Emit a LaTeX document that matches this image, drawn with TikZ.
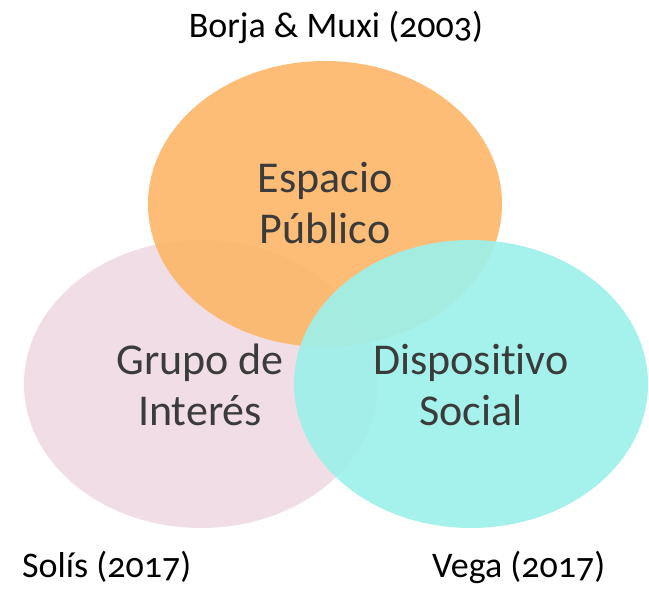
\documentclass[tikz,border=0pt]{standalone}
\usepackage{fontspec}
\setmainfont{Carlito}[Numbers=OldStyle,Ligatures=NoCommon]
\definecolor{orangefill}{HTML}{FDB86B}
\definecolor{pinkfill}{HTML}{EFDBE3}
\definecolor{cyanfill}{HTML}{9EF0EA}
\definecolor{labeltext}{HTML}{3B3B3B}
\begin{document}
\begin{tikzpicture}[x=1pt,y=-1pt,
  setblob/.style={fill opacity=0.92,draw=none},
  setlabel/.style={text=labeltext,font=\fontsize{44}{51}\selectfont,align=center,anchor=base,inner sep=0pt},
  srclabel/.style={text=black,font=\fontsize{36}{40}\selectfont,inner sep=0pt}]
\useasboundingbox (0,0) rectangle (649,590);
\fill[white] (0,0) rectangle (649,590);
\fill[pinkfill,setblob] (201,384) ellipse [x radius=177,y radius=144];
\fill[orangefill,setblob] (325,204) ellipse [x radius=177,y radius=143];
\fill[cyanfill,setblob] (471,384) ellipse [x radius=177,y radius=144];
\node[setlabel] (ep) at (325,243) {Espacio\\Público};
\node[setlabel] (gi) at (200,425) {Grupo de\\Interés};
\node[setlabel] (ds) at (471,425) {Dispositivo\\Social};
\node[srclabel,anchor=base] (bm) at (336,37) {Borja \& Muxi (2003)};
\node[srclabel,anchor=base west] (so) at (22,577) {Solís (2017)};
\node[srclabel,anchor=base west] (ve) at (432,577) {Vega (2017)};
\end{tikzpicture}
\end{document}
